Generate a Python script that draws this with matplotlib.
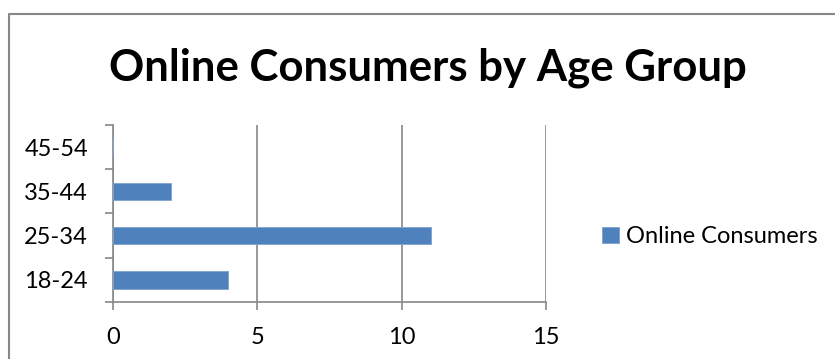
import matplotlib.pyplot as plt
from matplotlib.lines import Line2D

# age groups and number of online consumers in each
age_groups = ['18-24', '25-34', '35-44', '45-54']
consumers = [4, 11, 2, 0]
x_ticks = [0, 5, 10, 15]

bar_color = '#4F81BD'
grey = '#878787'

plt.rcParams['font.family'] = ['Lato', 'DejaVu Sans']

fig = plt.figure(figsize=(8.35, 3.59), dpi=100)
ax = fig.add_axes([0.1353, 0.1588, 0.5186, 0.493])

pos = list(range(len(age_groups)))
ax.barh(pos, consumers, height=0.4, color=bar_color, edgecolor='#7FA2CF',
        linewidth=0.6, label='Online Consumers', zorder=3)

ax.set_xlim(0, 15)
ax.set_ylim(-0.5, len(age_groups) - 0.5)
ax.set_xticks(x_ticks)
ax.set_xticklabels([str(t) for t in x_ticks])
ax.set_yticks(pos)
ax.set_yticklabels(age_groups)
ax.set_yticks([p - 0.5 for p in range(len(age_groups) + 1)], minor=True)

ax.tick_params(axis='y', which='major', length=0, pad=18, labelsize=17)
ax.tick_params(axis='y', which='minor', length=6, width=1.2, color=grey,
               direction='out')
ax.tick_params(axis='x', length=6, width=1.2, color=grey, pad=12,
               labelsize=17)

ax.xaxis.grid(True, color=grey, linewidth=1.2, zorder=0)
for side in ['top', 'right']:
    ax.spines[side].set_visible(False)
for side in ['left', 'bottom']:
    ax.spines[side].set_color(grey)
    ax.spines[side].set_linewidth(1.2)

fig.text(0.513, 0.777, 'Online Consumers by Age Group', ha='center',
         va='baseline', fontsize=31.5, fontweight='bold')

fig.legend(loc='center left', bbox_to_anchor=(0.710, 0.34), frameon=False,
           fontsize=17, handlelength=0.7, handleheight=0.7,
           handletextpad=0.3, borderaxespad=0)

# chart area frame, running off the right and bottom edges
frame = Line2D([0.0108, 0.0108, 1.0], [0.0, 0.961, 0.961],
               transform=fig.transFigure, color=grey, linewidth=1.5)
fig.add_artist(frame)

fig.savefig('out.png', dpi=100)
